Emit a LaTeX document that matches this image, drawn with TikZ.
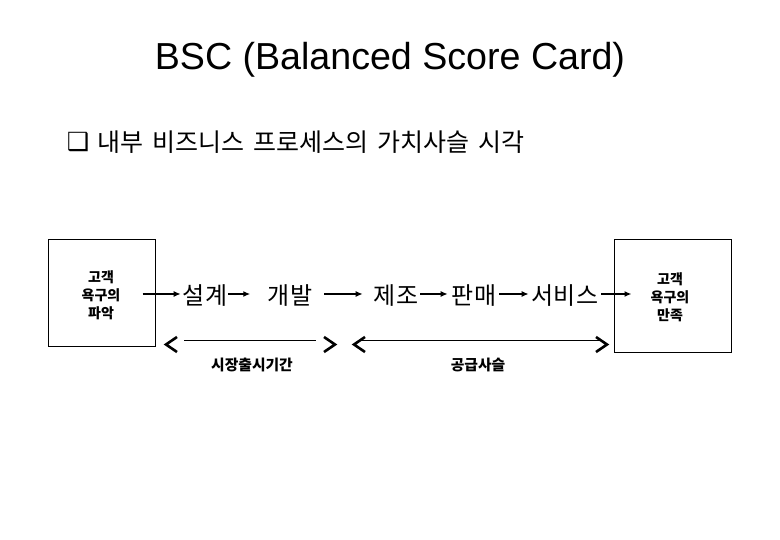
\documentclass[tikz,border=0pt]{standalone}
\usepackage{fontspec}
\setmainfont{Noto Sans CJK KR}
\newfontfamily\titlefont{Liberation Sans}
\newfontfamily\symfont{DejaVu Sans}
\usetikzlibrary{arrows.meta}
\begin{document}
\begin{tikzpicture}[x=1pt,y=-1pt,
 box/.style={draw,line width=1pt,inner sep=0pt},
 stage/.style={font=\fontsize{24}{24}\selectfont,inner sep=0pt},
 small/.style={font=\bfseries\fontsize{14}{18}\selectfont,align=center,inner sep=0pt},
 flow/.style={line width=1.5pt,-{Latex[length=7pt,width=6pt]}},
 chev/.style={line width=2.6pt,line join=miter},
 span/.style={line width=1pt},
 lab/.style={font=\bfseries\fontsize{14.8}{15}\selectfont,inner sep=0pt}]
\useasboundingbox (0,0) rectangle (780,540);
\fill[white] (0,0) rectangle (780,540);
\node[font=\titlefont\fontsize{37.6}{40}\selectfont,anchor=base,inner sep=0pt] (title) at (390,70) {BSC (Balanced Score Card)};
\node[font=\symfont\fontsize{25}{25}\selectfont,inner sep=0pt] (bullet) at (78,142) {❑};
\node[font=\fontsize{25}{25}\selectfont,anchor=west,inner sep=0pt] (sub) at (97,142) {\spaceskip=9pt 내부 비즈니스 프로세스의 가치사슬 시각};
% boxes
\node[box,minimum width=107pt,minimum height=107pt] (lbox) at (101.5,293.5) {};
\node[small] (ltext) at (101,295) {고객\\욕구의\\파악};
\node[box,minimum width=117pt,minimum height=113pt] (rbox) at (672.5,296) {};
\node[small] (rtext) at (670,297) {고객\\욕구의\\만족};
% stages
\node[stage] (s1) at (205,296) {설계};
\node[stage] (s2) at (290,296) {개발};
\node[stage] (s3) at (396,296) {제조};
\node[stage] (s4) at (474,296) {판매};
\node[stage] (s5) at (565,296) {서비스};
\coordinate (ay) at (0,294);
% arrows
\draw[flow] ([xshift=-13pt]lbox.east |- ay) -- ([xshift=-2pt]s1.west |- ay);
\draw[flow] ([xshift=1pt]s1.east |- ay) -- ([xshift=23pt]s1.east |- ay);
\draw[flow] ([xshift=12pt]s2.east |- ay) -- ([xshift=-11pt]s3.west |- ay);
\draw[flow] ([xshift=2pt]s3.east |- ay) -- ([xshift=-4pt]s4.west |- ay);
\draw[flow] ([xshift=3pt]s4.east |- ay) -- ([xshift=-3pt]s5.west |- ay);
\draw[flow] ([xshift=3pt]s5.east |- ay) -- ([xshift=18pt]rbox.west |- ay);
% spans
\coordinate (a1) at (177,337);
\coordinate (a2) at (166,344.5);
\coordinate (a3) at (177,352);
\draw[chev] (a1) -- (a2) -- (a3);
\coordinate (b1) at (184,341);
\coordinate (b2) at (316,341);
\draw[span] (b1) -- (b2);
\coordinate (c1) at (324,337);
\coordinate (c2) at (335,344.5);
\coordinate (c3) at (324,352);
\draw[chev] (c1) -- (c2) -- (c3);
\coordinate (d1) at (365,337);
\coordinate (d2) at (354,344.5);
\coordinate (d3) at (365,352);
\draw[chev] (d1) -- (d2) -- (d3);
\coordinate (e1) at (360,341);
\coordinate (e2) at (600,341);
\draw[span] (e1) -- (e2);
\coordinate (f1) at (596,337);
\coordinate (f2) at (607,344.5);
\coordinate (f3) at (596,352);
\draw[chev] (f1) -- (f2) -- (f3);
\node[lab] (l1) at (252,365) {시장출시기간};
\node[lab] (l2) at (478,365) {공급사슬};
\end{tikzpicture}
\end{document}
